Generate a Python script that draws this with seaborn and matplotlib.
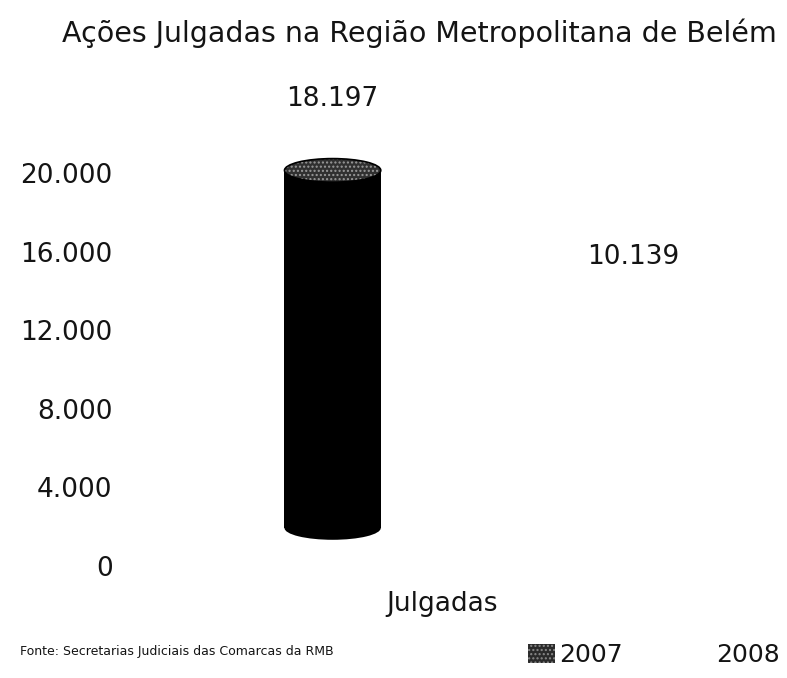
import matplotlib
matplotlib.use("Agg")
import matplotlib.pyplot as plt
import matplotlib.transforms as mtransforms
from matplotlib.patches import Ellipse
import seaborn as sns
import pandas as pd

# ---- data ----
categories = ["Julgadas"]
years = ["2007", "2008"]
values_2007 = [18197]
values_2008 = [10139]
yticks = [0, 4000, 8000, 12000, 16000, 20000]
ytick_labels = ["0", "4.000", "8.000", "12.000", "16.000", "20.000"]
title = "Ações Julgadas na Região Metropolitana de Belém"
source = "Fonte: Secretarias Judiciais das Comarcas da RMB"

df = pd.DataFrame({
    "categoria": categories * 2,
    "ano": [years[0]] * len(values_2007) + [years[1]] * len(values_2008),
    "valor": values_2007 + values_2008,
})

def fmt(v):
    return f"{v:,.0f}".replace(",", ".")

sns.set_theme(style="white")
plt.rcParams["font.family"] = ["DejaVu Sans"]
TXT = "#141414"

fig = plt.figure(figsize=(7.87, 6.78), dpi=100)
W, H = 787, 678
ax = fig.add_axes([125 / W, 112 / H, (W - 125) / W, (566 - 80) / H])

sns.barplot(data=df, x="categoria", y="valor", hue="ano",
            palette=["black", "white"], width=0.8, gap=0.68,
            edgecolor="none", ax=ax, legend=True)

ax.set_xlim(-0.476, 0.404)
ax.set_ylim(0, 24730)
ax.set_yticks(yticks)
ax.set_yticklabels(ytick_labels)
ax.tick_params(axis="y", length=0, pad=9, labelsize=19, labelcolor=TXT)
ax.tick_params(axis="x", length=0, pad=18, labelsize=19, labelcolor=TXT)
ax.set_xlabel("")
ax.set_ylabel("")
for s in ax.spines.values():
    s.set_visible(False)

# shift category label left
for lab in ax.get_xticklabels():
    lab.set_transform(lab.get_transform() +
                      mtransforms.ScaledTranslation(-41 / 100, 0, fig.dpi_scale_trans))

# 3D-ish offset for the cylinders
shift = mtransforms.offset_copy(ax.transData, fig=fig, x=0, y=38, units="dots")
bars = [p for p in ax.patches if p.get_height() > 0]
ell_h = 1200
for bar in bars:
    fc = bar.get_facecolor()
    is_dark = fc[0] < 0.5
    bar.set_transform(shift)
    x0, w, h = bar.get_x(), bar.get_width(), bar.get_height()
    cx = x0 + w / 2
    z = bar.get_zorder()
    if is_dark:
        ax.add_patch(Ellipse((cx, 0), w, ell_h, facecolor="black", edgecolor="none",
                             transform=shift, zorder=z))
        ax.add_patch(Ellipse((cx, h), w, ell_h, facecolor="#303030", edgecolor="none",
                             transform=shift, zorder=z + 1))
        ax.add_patch(Ellipse((cx, h), w, ell_h, facecolor="none", edgecolor="#9a9a9a",
                             hatch="....", linewidth=0, transform=shift, zorder=z + 2))
        ax.add_patch(Ellipse((cx, h), w, ell_h, facecolor="none", edgecolor="black",
                             linewidth=1.2, transform=shift, zorder=z + 3))
    ax.annotate(fmt(h), xy=(cx, h), xytext=(0, 79), textcoords="offset points",
                ha="center", va="center", fontsize=19, color=TXT)

# legend
leg = ax.legend(loc="center left", bbox_to_anchor=(528 / W, 1 - 655 / H),
                bbox_transform=fig.transFigure, ncol=2, frameon=False,
                fontsize=18, handlelength=1.08, handleheight=0.76,
                columnspacing=2.5, handletextpad=0.15, borderaxespad=0,
                borderpad=0, labelcolor=TXT)
for hnd in leg.legend_handles:
    hnd.set_edgecolor("none")
leg.legend_handles[0].set_facecolor("#2a2a2a")
leg.legend_handles[0].set_edgecolor("#8a8a8a")
leg.legend_handles[0].set_linewidth(0)
leg.legend_handles[0].set_hatch("....")

fig.text(419 / W, 1 - 33 / H, title, ha="center", va="center", fontsize=20.5,
         color=TXT)
fig.text(20 / W, 1 - 652 / H, source, ha="left", va="center", fontsize=9,
         color=TXT)

fig.savefig("out.png", dpi=100, facecolor="white")
